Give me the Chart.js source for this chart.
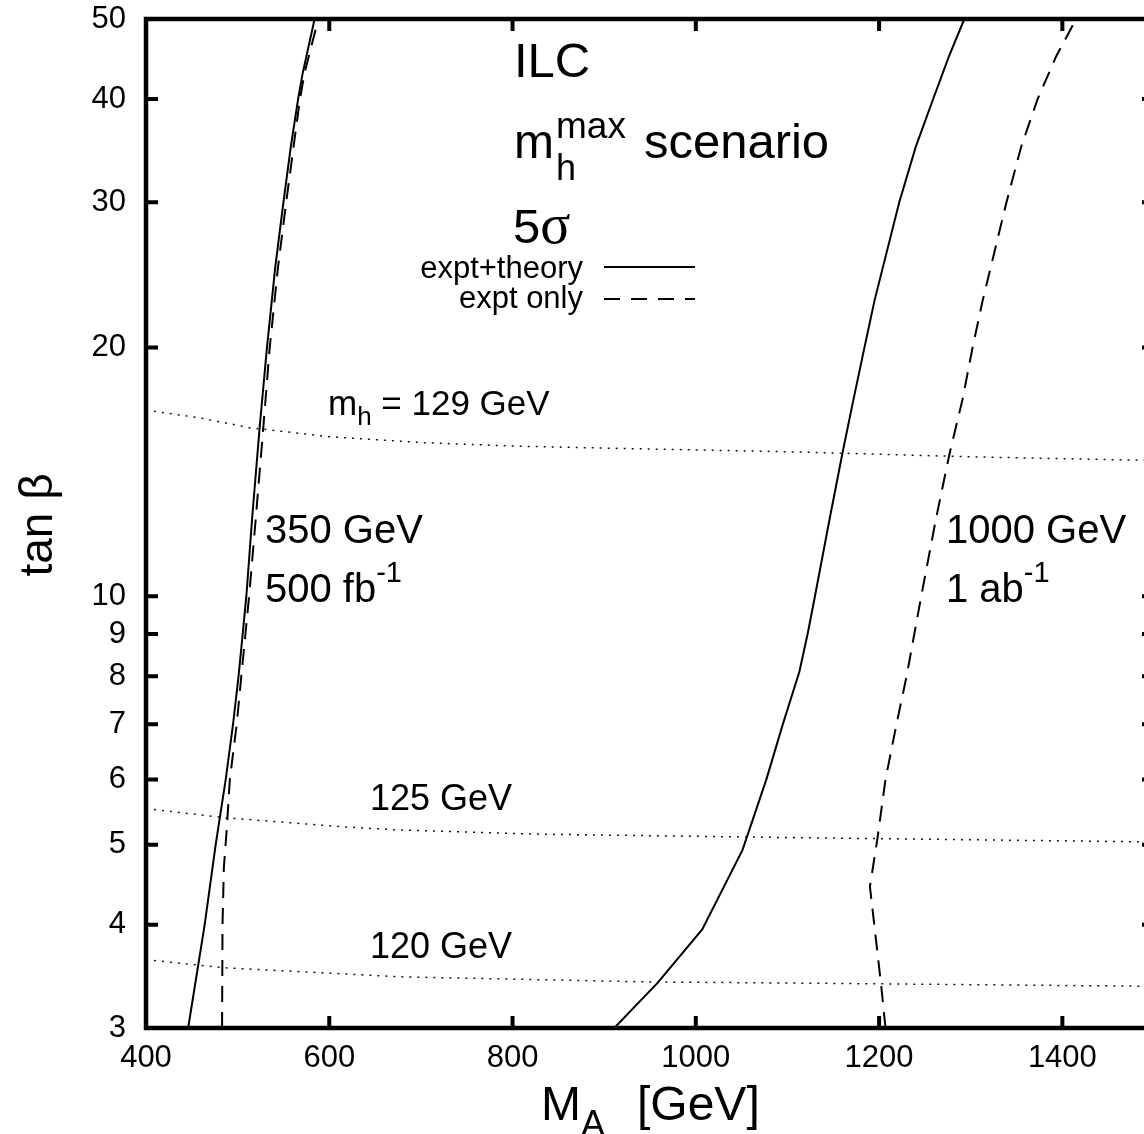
<!DOCTYPE html>
<html>
<head>
<meta charset="utf-8">
<script src="https://cdn.jsdelivr.net/npm/chart.js"></script>
<style>
  html, body { margin: 0; padding: 0; background: #fff; overflow: hidden; }
  canvas { display: block; }
</style>
</head>
<body>
<canvas id="plot" width="1160" height="1134"></canvas>
<script>
// tick labels
const xTicks = [400, 600, 800, 1000, 1200, 1400];
const yTicks = [3, 4, 5, 6, 7, 8, 9, 10, 20, 30, 40, 50];

// 350 GeV, 500 fb^-1 : 5 sigma contours (tan beta -> M_A)
const tanB350Full = [3, 4, 5, 6, 7, 8, 9, 10, 12.5, 16, 20, 25, 30, 35, 40, 43, 50];
const ma350Full = [446, 464, 476, 487, 495, 501, 505.5, 509.5, 516, 524, 532, 541, 550, 558, 566, 571, 584];
const tanB350Expt = [3, 4, 4.7, 5.2, 6, 7, 8, 9, 10, 12.5, 16, 20, 25, 30, 35, 40, 43, 50];
const ma350Expt = [483, 483.5, 485, 488, 491.5, 499, 504, 508.5, 512.5, 520, 528, 535, 544, 553, 561, 568, 573, 588];

// 1000 GeV, 1 ab^-1
const tanB1000Full = [3, 3.4, 3.95, 4.93, 6, 7, 8.1, 9, 10, 12.4, 14.9, 17.3, 20, 22.8, 30, 35, 40, 45, 50];
const ma1000Full = [911, 958, 1007, 1051, 1077, 1095, 1113, 1122, 1130, 1146, 1160, 1172, 1184, 1195, 1222, 1240, 1259, 1276, 1293];
const tanB1000Expt = [3, 3.4, 4.45, 5.07, 6, 7, 8, 10, 12.4, 14.9, 17.3, 20, 22.8, 30, 35, 40, 45, 50];
const ma1000Expt = [1207, 1202, 1190, 1198, 1207, 1219, 1230, 1246, 1262, 1277, 1291, 1302, 1313, 1339, 1355, 1373, 1393, 1415];

// m_h contours (M_A -> tan beta)
const ma129 = [400, 459, 513, 600, 700, 800, 916, 1113, 1300, 1500];
const tanB129 = [16.8, 16.44, 16.0, 15.6, 15.35, 15.2, 15.1, 14.95, 14.75, 14.6];
const ma125 = [400, 488, 612, 677, 830, 1113, 1500];
const tanB125 = [5.53, 5.39, 5.26, 5.21, 5.15, 5.10, 5.04];
const ma120 = [400, 483, 677, 957, 1113, 1500];
const tanB120 = [3.63, 3.55, 3.46, 3.41, 3.40, 3.37];

const SANS = '"Liberation Sans", Arial, Helvetica, sans-serif';
const SERIF = '"Liberation Serif", "Times New Roman", serif';

function pairs(xs, ys) {
  return xs.map((x, i) => ({ x: x, y: ys[i] }));
}

function curve(data, dash, width, color) {
  return {
    data: data,
    showLine: true,
    borderColor: color || "#000",
    borderWidth: width,
    borderDash: dash,
    pointRadius: 0,
    tension: 0,
    fill: false,
  };
}

// draw text pieces one after the other (for sub/superscripts)
function runs(ctx, x, y, parts) {
  parts.forEach((p) => {
    ctx.font = p.size + "px " + (p.family || SANS);
    ctx.fillText(p.t, x, y + (p.dy || 0));
    if (!p.stay) x += ctx.measureText(p.t).width + (p.gap || 0);
  });
}

const frame = {
  id: "frame",
  afterDatasetsDraw(chart) {
    const ctx = chart.ctx;
    const a = chart.chartArea;
    const xs = chart.scales.x;
    const ys = chart.scales.y;
    ctx.save();
    ctx.strokeStyle = "#000";
    ctx.lineWidth = 4;
    ctx.lineCap = "butt";
    ctx.beginPath();
    xTicks.forEach((v) => {
      const px = xs.getPixelForValue(v);
      ctx.moveTo(px, a.bottom); ctx.lineTo(px, a.bottom - 12);
      ctx.moveTo(px, a.top); ctx.lineTo(px, a.top + 12);
    });
    yTicks.forEach((v) => {
      const py = ys.getPixelForValue(v);
      ctx.moveTo(a.left, py); ctx.lineTo(a.left + 12, py);
      ctx.moveTo(a.right, py); ctx.lineTo(a.right - 12, py);
    });
    ctx.stroke();
    ctx.lineWidth = 4.5;
    ctx.strokeRect(a.left, a.top, a.right - a.left, a.bottom - a.top);
    ctx.restore();
  },
  afterDraw(chart) {
    const ctx = chart.ctx;
    ctx.save();
    ctx.fillStyle = "#000";
    ctx.textAlign = "left";
    ctx.textBaseline = "alphabetic";

    runs(ctx, 514, 77, [{ t: "ILC", size: 49 }]);
    runs(ctx, 514, 158, [
      { t: "m", size: 48, gap: 2 },
      { t: "h", size: 36, dy: 22, stay: true },
      { t: "max", size: 37, dy: -20, gap: 18 },
      { t: "scenario", size: 49 },
    ]);
    runs(ctx, 513, 243, [
      { t: "5", size: 49 },
      { t: "\u03c3", size: 56, family: SERIF },
    ]);

    // key
    ctx.textAlign = "right";
    ctx.font = "31px " + SANS;
    ctx.fillText("expt+theory", 583, 278);
    ctx.fillText("expt only", 583, 308);
    ctx.textAlign = "left";
    ctx.strokeStyle = "#000";
    ctx.lineWidth = 2;
    ctx.beginPath();
    ctx.moveTo(604, 267); ctx.lineTo(695, 267);
    ctx.stroke();
    ctx.setLineDash([16, 11]);
    ctx.beginPath();
    ctx.moveTo(604, 299); ctx.lineTo(695, 299);
    ctx.stroke();
    ctx.setLineDash([]);

    // contour labels
    runs(ctx, 328, 415, [
      { t: "m", size: 35 },
      { t: "h", size: 26, dy: 10 },
      { t: " = 129 GeV", size: 35 },
    ]);
    runs(ctx, 370, 810, [{ t: "125 GeV", size: 36 }]);
    runs(ctx, 370, 958, [{ t: "120 GeV", size: 36 }]);

    runs(ctx, 265, 543, [{ t: "350 GeV", size: 40 }]);
    runs(ctx, 265, 602, [
      { t: "500 fb", size: 40 },
      { t: "-1", size: 29, dy: -20 },
    ]);
    runs(ctx, 946, 543, [{ t: "1000 GeV", size: 40 }]);
    runs(ctx, 946, 602, [
      { t: "1 ab", size: 40 },
      { t: "-1", size: 29, dy: -20 },
    ]);

    // axis titles
    runs(ctx, 541, 1120, [
      { t: "M", size: 48 },
      { t: "A", size: 36, dy: 16, gap: 32 },
      { t: "[GeV]", size: 48 },
    ]);
    ctx.save();
    ctx.translate(52, 525);
    ctx.rotate(-Math.PI / 2);
    ctx.textAlign = "center";
    ctx.font = "46px " + SANS;
    ctx.fillText("tan \u03b2", 0, 0);
    ctx.restore();

    ctx.restore();
  },
};

new Chart(document.getElementById("plot"), {
  type: "scatter",
  data: {
    datasets: [
      curve(pairs(ma129, tanB129), [2, 6], 1.5, "#111"),
      curve(pairs(ma125, tanB125), [2, 6], 1.5, "#111"),
      curve(pairs(ma120, tanB120), [2, 6], 1.5, "#111"),
      curve(pairs(ma350Full, tanB350Full), [], 2),
      curve(pairs(ma350Expt, tanB350Expt), [16, 10], 2),
      curve(pairs(ma1000Full, tanB1000Full), [], 2),
      curve(pairs(ma1000Expt, tanB1000Expt), [16, 10], 2),
    ],
  },
  options: {
    responsive: false,
    animation: false,
    devicePixelRatio: 1,
    layout: { padding: { left: 0, top: 19, right: 6, bottom: 0 } },
    plugins: { legend: { display: false }, tooltip: { enabled: false } },
    scales: {
      x: {
        type: "linear",
        min: 400,
        max: 1500,
        afterBuildTicks: (s) => { s.ticks = xTicks.map((v) => ({ value: v })); },
        afterFit: (s) => {
          s.height = 106;
          s.paddingLeft = 0;
          s.paddingRight = 0;
        },
        grid: { display: false, drawTicks: false },
        border: { display: false },
        ticks: {
          padding: 12,
          color: "#000",
          font: { family: SANS, size: 31 },
          maxRotation: 0,
          callback: (v) => String(v),
        },
      },
      y: {
        type: "logarithmic",
        min: 3,
        max: 50,
        afterBuildTicks: (s) => { s.ticks = yTicks.map((v) => ({ value: v })); },
        afterFit: (s) => {
          s.width = 146;
          s.paddingTop = 0;
          s.paddingBottom = 0;
        },
        grid: { display: false, drawTicks: false },
        border: { display: false },
        ticks: {
          padding: 20,
          color: "#000",
          font: { family: SANS, size: 31 },
          callback: (v) => String(v),
        },
      },
    },
  },
  plugins: [frame],
});
</script>
</body>
</html>
